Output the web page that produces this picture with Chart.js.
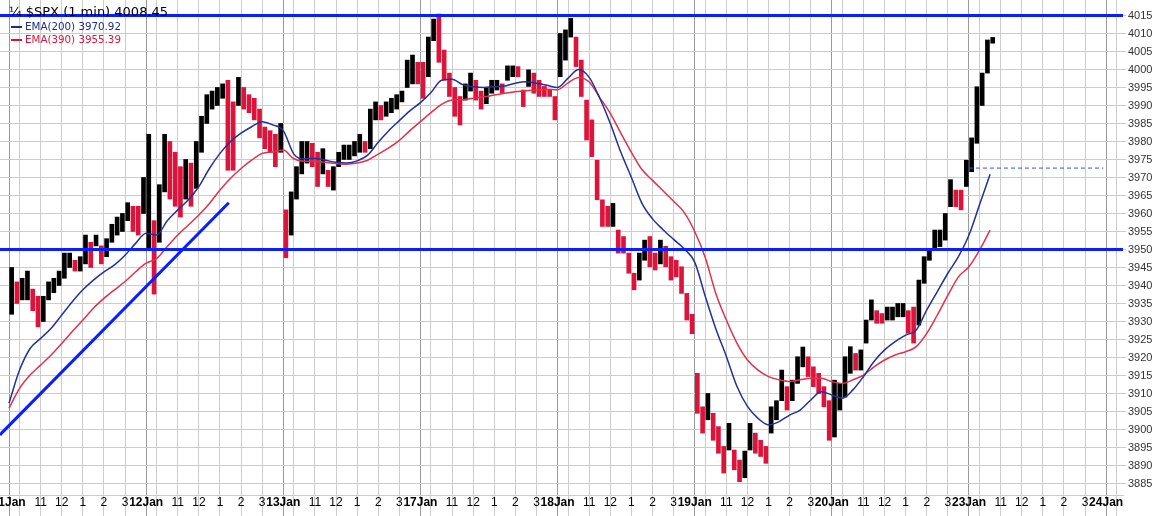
<!DOCTYPE html>
<html>
<head>
<meta charset="utf-8">
<script src="https://cdn.jsdelivr.net/npm/chart.js@4.4.1/dist/chart.umd.min.js"></script>
<style>
  body { margin: 0; background: #fff; }
  #wrap { position: relative; width: 1170px; height: 516px; }
  #title { position: absolute; left: 9px; top: 4px; font: 13px "DejaVu Sans", sans-serif; color: #000; }
  .leg { position: absolute; left: 11px; font: 10.3px "DejaVu Sans", sans-serif; }
  .leg i { display: inline-block; width: 11px; height: 2px; vertical-align: middle; margin-right: 3px; }
</style>
</head>
<body>
<div id="wrap">
  <canvas id="spxChart" width="1170" height="516"></canvas>
  <div id="title">¼ $SPX (1 min) 4008.45</div>
  <div class="leg" style="top:20px;color:#1e2d8c"><i style="background:#1e2d8c"></i>EMA(200) 3970.92</div>
  <div class="leg" style="top:33px;color:#dc143c"><i style="background:#dc143c"></i>EMA(390) 3955.39</div>
</div>
<script>
// one trading session = 390 minutes (9:30 - 16:00), x axis counts session minutes
const SESSION_MIN = 390;
const BAR_MIN = 15;   // price bars are 15 minute ranges
const EMA_MIN = 30;   // EMA lines sampled every 30 minutes

const dayLabels = ["11Jan", "12Jan", "13Jan", "17Jan", "18Jan", "19Jan", "20Jan", "23Jan", "24Jan"];
const hourOffsets = [30, 90, 150, 210, 270, 330];
const hourLabels = ["", "11", "12", "1", "2", "3"];

// low / high of each 15 minute slot
const barLow = [
    3932, 3935, 3936, 3936, 3933, 3928.5, 3930, 3936, 3938, 3940, 3942, 3945, 3944, 3944, 3946, 3945, 3951, 3946, 3948, 3952, 3954, 3955, 3958, 3955, 3954, 3960,
    3950, 3937.6, 3952, 3966, 3964, 3962, 3959, 3964, 3962, 3967, 3977, 3985, 3989, 3990, 3992, 3972, 3972, 3990, 3989, 3988, 3986, 3981, 3978, 3977, 3973, 3977,
    3947.7, 3954, 3964, 3971, 3974, 3973, 3967.5, 3971, 3967.5, 3966.5, 3973, 3975, 3975, 3976, 3977, 3977, 3978, 3986, 3986, 3987, 3988, 3989, 3991, 3995, 3996, 3996,
    3992, 3998, 4008, 4002, 3997, 3992.5, 3987, 3984.6, 3991.5, 3994, 3991.5, 3989, 3990.5, 3993.4, 3994.3, 3993.4, 3997, 3998, 3998, 3989.7, 3995.3, 3993.4, 3992.5, 3992.5, 3992.5, 3986,
    3998, 4002.6, 4009, 4000.8, 3992.5, 3980.4, 3975.8, 3963.8, 3956.4, 3956.4, 3956.4, 3949, 3949, 3943.4, 3938.8, 3941.5, 3947, 3945.2, 3944.3, 3946, 3945.2, 3941.5, 3942.4, 3937.8, 3930.4, 3926.6,
    3904.5, 3899, 3902.7, 3897, 3893.4, 3887.9, 3894.3, 3888.8, 3885.5, 3886.6, 3894.3, 3893.4, 3892.5, 3890.6, 3899, 3902.7, 3908, 3905.4, 3908, 3912.8, 3917.4, 3914.7, 3911.9, 3910, 3906.3, 3897,
    3897.9, 3905.4, 3909, 3915.6, 3916.5, 3916.5, 3924, 3930.4, 3929.5, 3929.5, 3930.4, 3930.4, 3931.3, 3931.3, 3926.7, 3924, 3929, 3940.6, 3947, 3950, 3950.8, 3952.6, 3961.9, 3961.9, 3961, 3967.5,
    3971.6, 3979.5, 3990, 3999, 4007.3
];
const barHigh = [
    3945, 3941, 3942, 3944, 3939, 3937, 3937, 3941, 3942, 3944, 3949, 3949, 3947, 3948, 3954, 3952, 3954, 3951, 3953, 3957, 3959, 3960, 3963, 3962, 3962, 3970,
    3982, 3958, 3968, 3982, 3980, 3977, 3973, 3975, 3974, 3980, 3987, 3993, 3994, 3995, 3996, 3997, 3991, 3997.8, 3995, 3993, 3992, 3989, 3984, 3983, 3982, 3985,
    3961, 3966, 3973, 3980, 3980, 3979.5, 3977, 3978, 3972, 3973, 3977, 3979, 3979, 3980, 3982, 3980, 3989, 3991, 3990, 3991, 3992, 3993, 3994, 4002.6, 4004, 4002,
    4002, 4009, 4014, 4015.4, 4005.4, 3999, 3995, 3992.5, 3996, 3999, 3997, 3994, 3995, 3997, 3997, 3996, 4001, 4001, 4000.8, 3994.3, 3999.9, 3999, 3997, 3995.3, 3994.3, 3992.5,
    4010, 4011, 4014.2, 4009, 4002.6, 3991.5, 3986, 3974.8, 3963.8, 3962, 3962.8, 3955.4, 3953.6, 3949, 3943.4, 3949, 3952.6, 3953.6, 3949, 3952.6, 3950.9, 3948, 3947, 3945.2, 3937.8, 3932,
    3915.6, 3906.3, 3910, 3904.5, 3900.8, 3895.3, 3901.7, 3894.3, 3891.5, 3894, 3901.7, 3899, 3897, 3895.3, 3906.3, 3908, 3916.5, 3911.9, 3913.7, 3920.2, 3922.9, 3920.2, 3917.4, 3915.6, 3911.9, 3908,
    3913.7, 3912.8, 3920.2, 3923, 3921.1, 3922.1, 3930.4, 3936, 3933, 3932.2, 3934, 3934, 3935, 3935, 3933, 3934, 3941.5, 3948, 3950, 3955.4, 3955.4, 3960, 3969.4, 3966.5, 3966.5, 3974.8,
    3981, 3995.2, 3999, 4008.2, 4008.9
];

// EMA values every 30 minutes
const ema200 = [
    3907.3, 3916.5, 3922.5, 3925.3, 3928.1, 3931.8, 3935.5, 3938.8, 3941.5, 3943.8, 3945.7, 3948.4, 3951.7,
    3954.5, 3954.0, 3958.0, 3961.0, 3963.8, 3967.5, 3972.5, 3976.7, 3980.0, 3982.3, 3984.1, 3985.5, 3984.6,
    3983.0, 3976.5, 3975.2, 3975.3, 3974.8, 3974.2, 3974.0, 3974.6, 3976.2, 3979.8, 3983.0, 3985.8, 3988.5,
    3990.8, 3993.6, 3997.0, 3997.3, 3995.8, 3995.2, 3995.0, 3995.2, 3995.4, 3996.2, 3996.6, 3996.2, 3995.6,
    3995.0, 3997.6, 4000.0, 3997.8, 3992.0, 3985.0, 3977.0, 3970.0, 3962.8, 3958.5, 3955.5, 3952.8, 3950.2,
    3946.5, 3937.0, 3928.0, 3920.3, 3912.0, 3906.4, 3903.1, 3901.3, 3902.2, 3904.0, 3905.4, 3908.2, 3910.5,
    3909.6, 3908.7, 3911.0, 3914.7, 3918.9, 3922.1, 3924.4, 3926.2, 3927.6, 3933.2, 3938.3, 3943.4, 3948.0,
    3954.0, 3962.4, 3970.9
];
const ema390 = [
    3905.9, 3911.4, 3915.1, 3917.9, 3920.7, 3923.9, 3927.2, 3930.4, 3933.7, 3936.4, 3938.8, 3941.1, 3943.8,
    3946.2, 3947.5, 3950.8, 3954.0, 3956.8, 3959.6, 3962.8, 3966.5, 3969.8, 3972.5, 3974.8, 3976.7, 3977.1,
    3977.6, 3975.2, 3974.5, 3974.5, 3974.2, 3973.9, 3973.7, 3974.0, 3974.8, 3976.5, 3978.2, 3980.3, 3983.0,
    3985.5, 3988.0, 3990.3, 3991.5, 3991.6, 3992.0, 3992.4, 3992.9, 3993.4, 3993.8, 3994.1, 3994.3, 3994.5,
    3994.4, 3996.3, 3997.8, 3996.5, 3992.2, 3987.8, 3982.3, 3977.0, 3972.2, 3969.2, 3966.3, 3963.4, 3960.3,
    3955.0, 3947.8, 3937.8, 3930.4, 3924.0, 3919.3, 3916.5, 3914.7, 3913.8, 3913.3, 3913.8, 3914.2, 3914.2,
    3913.3, 3912.8, 3913.8, 3915.1, 3917.4, 3919.3, 3920.7, 3921.6, 3923.0, 3926.7, 3931.8, 3937.3, 3942.4,
    3945.2, 3949.8, 3955.4
];

// drawn annotation lines (values in price / session minutes)
const resistance = 4015;
const support = 3950;
const prevClose = 3972.61;
const prevCloseFrom = [2730, 3112];
const trendMinutes = [-26, 625];
const trendPrices = [3898.5, 3963];

const xMin = -25.6, xMax = 3168;
const yMin = 3881.8, yMax = 4019.3;

const BLACK = "#000000";
const RED = "#dc143c";

const bars = barLow.map((lo, i) => ({ x: i * BAR_MIN + BAR_MIN / 2, y: [lo, barHigh[i]] }));
const barColors = barLow.map((lo, i) => {
    if (i === 0) return BLACK;
    const mid = (lo + barHigh[i]) / 2;
    const prev = (barLow[i - 1] + barHigh[i - 1]) / 2;
    return mid < prev ? RED : BLACK;
});
const emaPts = (arr) => arr.map((v, i) => ({ x: i * EMA_MIN, y: v }));

// x ticks: day start + each hour
const tickValues = [];
const tickText = new Map();
const dayTicks = new Set();
dayLabels.forEach((lab, d) => {
    const t0 = d * SESSION_MIN;
    tickValues.push(t0);
    tickText.set(t0, lab);
    dayTicks.add(t0);
    hourOffsets.forEach((o, k) => {
        if (t0 + o > xMax) return;
        tickValues.push(t0 + o);
        tickText.set(t0 + o, hourLabels[k]);
    });
});
const yTickValues = [];
for (let v = 3885; v <= 4015; v += 5) yTickValues.push(v);

const hLine = (y, color, width, dash) => ({
    type: "line",
    data: [{ x: xMin, y: y }, { x: xMax, y: y }],
    borderColor: color,
    borderWidth: width,
    borderDash: dash || [],
    pointRadius: 0,
    order: 1,
});

new Chart(document.getElementById("spxChart"), {
    type: "bar",
    data: {
        datasets: [
            hLine(resistance, "#0a1eff", 3),
            hLine(support, "#0a1eff", 3),
            {
                type: "line",
                data: prevCloseFrom.map((t) => ({ x: t, y: prevClose })),
                borderColor: "#3050ff",
                borderWidth: 1,
                borderDash: [4, 3],
                pointRadius: 0,
                order: 1,
            },
            {
                type: "line",
                data: trendMinutes.map((t, i) => ({ x: t, y: trendPrices[i] })),
                borderColor: "#0a1eff",
                borderWidth: 3,
                pointRadius: 0,
                order: 1,
            },
            {
                type: "line",
                data: emaPts(ema200),
                borderColor: "#22309a",
                borderWidth: 1.5,
                pointRadius: 0,
                cubicInterpolationMode: "monotone",
                order: 5,
            },
            {
                type: "line",
                data: emaPts(ema390),
                borderColor: "#e0304c",
                borderWidth: 1.5,
                pointRadius: 0,
                cubicInterpolationMode: "monotone",
                order: 5,
            },
            {
                type: "bar",
                data: bars,
                backgroundColor: barColors,
                barThickness: 4,
                grouped: false,
                order: 10,
            },
        ],
    },
    options: {
        responsive: false,
        animation: false,
        devicePixelRatio: 1,
        layout: { padding: 0 },
        plugins: { legend: { display: false }, tooltip: { enabled: false } },
        scales: {
            x: {
                type: "linear",
                min: xMin,
                max: xMax,
                offset: false,
                afterBuildTicks: (s) => { s.ticks = tickValues.map((v) => ({ value: v })); },
                afterFit: (s) => { s.height = 21; s.paddingLeft = 0; s.paddingRight = 0; },
                grid: {
                    offset: false,
                    tickLength: 21,
                    color: (c) => (c.tick && dayTicks.has(c.tick.value) ? "#9a9a9a" : "#cccccc"),
                },
                border: { color: "#cccccc" },
                ticks: {
                    autoSkip: false,
                    maxRotation: 0,
                    padding: -21,
                    color: "#000",
                    font: (c) => (c.tick && dayTicks.has(c.tick.value)
                        ? { family: "Arial", size: 12, weight: "bold" }
                        : { family: "Arial", size: 12 }),
                    callback: (v) => tickText.get(v) ?? "",
                },
            },
            y: {
                type: "linear",
                position: "right",
                min: yMin,
                max: yMax,
                afterBuildTicks: (s) => { s.ticks = yTickValues.map((v) => ({ value: v })); },
                afterFit: (s) => { s.width = 47; s.paddingTop = 0; s.paddingBottom = 0; },
                grid: { color: "#cccccc", tickLength: 3 },
                border: { display: false },
                ticks: {
                    padding: 2,
                    color: "#333",
                    font: { family: "Arial", size: 11 },
                    callback: (v) => String(v),
                },
            },
        },
    },
});
</script>
</body>
</html>
